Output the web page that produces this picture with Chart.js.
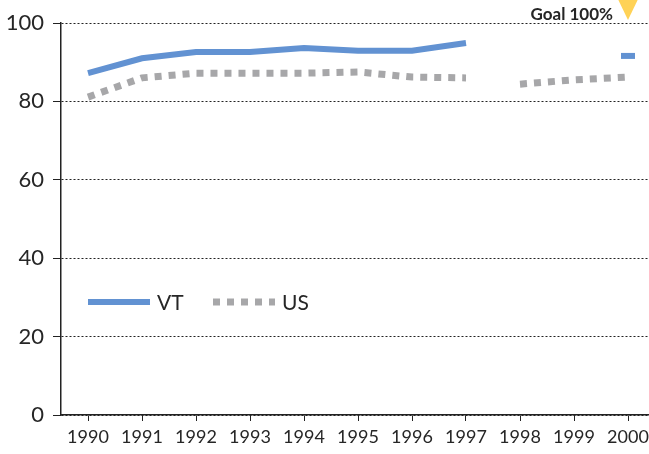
<!DOCTYPE html>
<html>
<head>
<meta charset="utf-8">
<script src="https://cdn.jsdelivr.net/npm/chart.js@4"></script>
<style>
  html, body { margin: 0; padding: 0; background: #fff; overflow: hidden; }
</style>
</head>
<body>
<canvas id="myChart" width="668" height="454"></canvas>
<script>
// data
const years = ['1990', '1991', '1992', '1993', '1994', '1995', '1996', '1997', '1998', '1999', '2000'];
const vtValues = [87.2, 91, 92.6, 92.6, 93.6, 92.9, 92.9, 94.9, null, null, 91.6];
const usValues = [81.1, 86, 87.2, 87.2, 87.2, 87.5, 86.2, 86, 84.4, 85.5, 86.2];
const usGapAfter = 7; // no line between 1997 and 1998
const goalValue = 100;
const goalLabel = 'Goal 100%';
const yTicks = [0, 20, 40, 60, 80, 100];

const blue = '#6292D2';
const gray = '#A7A7A9';
const font = 'Lato';

document.addEventListener('DOMContentLoaded', function() {
    const ctx = document.getElementById('myChart').getContext('2d');

    // goal marker + legend drawn in the chart
    const extras = {
        id: 'extras',
        afterDatasetsDraw(chart) {
            const c = chart.ctx;
            const x = chart.scales.x.getPixelForValue(years.length - 1);
            const y = chart.scales.y.getPixelForValue(goalValue);
            c.save();
            c.fillStyle = '#FFD256';
            c.beginPath();
            c.moveTo(x - 13, y - 30);
            c.lineTo(x + 13, y - 30);
            c.lineTo(x, y - 3);
            c.closePath();
            c.fill();
            c.fillStyle = '#262626';
            c.font = 'bold 17px ' + font;
            c.textAlign = 'right';
            c.textBaseline = 'middle';
            c.fillText(goalLabel, x - 15, y - 8);

            // legend
            const ly = 302;
            let lx = 88;
            chart.data.datasets.forEach(function(ds) {
                c.strokeStyle = ds.borderColor;
                c.lineWidth = ds.borderWidth;
                c.setLineDash(ds.borderDash || []);
                c.lineCap = 'butt';
                c.beginPath();
                c.moveTo(lx, ly);
                c.lineTo(lx + 62, ly);
                c.stroke();
                c.setLineDash([]);
                c.fillStyle = '#262626';
                c.font = '21px ' + font;
                c.textAlign = 'left';
                c.fillText(ds.label, lx + 69, ly + 1);
                lx += 125;
            });
            c.restore();
        }
    };

    new Chart(ctx, {
        type: 'line',
        data: {
            labels: years,
            datasets: [{
                label: 'VT',
                data: vtValues,
                borderColor: blue,
                backgroundColor: blue,
                borderWidth: 6,
                pointRadius: vtValues.map((v, i) => i === years.length - 1 ? 7 : 0),
                pointStyle: 'line',
                pointBorderWidth: 6,
                tension: 0,
                spanGaps: false
            }, {
                label: 'US',
                data: usValues,
                borderColor: gray,
                backgroundColor: gray,
                borderWidth: 7,
                borderDash: [7, 7],
                borderCapStyle: 'butt',
                pointRadius: 0,
                tension: 0,
                segment: {
                    borderColor: c => c.p0DataIndex === usGapAfter ? 'rgba(0,0,0,0)' : gray
                }
            }]
        },
        options: {
            responsive: false,
            animation: false,
            layout: { padding: { top: 23, right: 0, left: 0, bottom: 0 } },
            plugins: {
                legend: { display: false },
                tooltip: { enabled: false }
            },
            scales: {
                x: {
                    offset: true,
                    grid: {
                        display: true,
                        drawOnChartArea: false,
                        drawTicks: true,
                        tickLength: 6,
                        color: '#222'
                    },
                    border: { display: true, color: '#222', width: 1.5 },
                    ticks: {
                        color: '#262626',
                        font: { family: font, size: 18 },
                        padding: 5,
                        maxRotation: 0,
                        autoSkip: false
                    },
                    afterFit: function(scale) { scale.height = 39; }
                },
                y: {
                    min: 0,
                    max: 100,
                    afterBuildTicks: function(scale) {
                        scale.ticks = yTicks.map(v => ({ value: v }));
                    },
                    grid: {
                        color: '#222',
                        lineWidth: 1,
                        tickLength: 8,
                        tickBorderDash: [],
                        tickColor: '#222'
                    },
                    border: { display: true, color: '#222', width: 1.5, dash: [2, 2] },
                    ticks: {
                        color: '#262626',
                        font: { family: font, size: 22 },
                        padding: 9
                    },
                    afterFit: function(scale) { scale.width = 61; }
                }
            }
        },
        plugins: [extras]
    });
});
</script>
</body>
</html>
